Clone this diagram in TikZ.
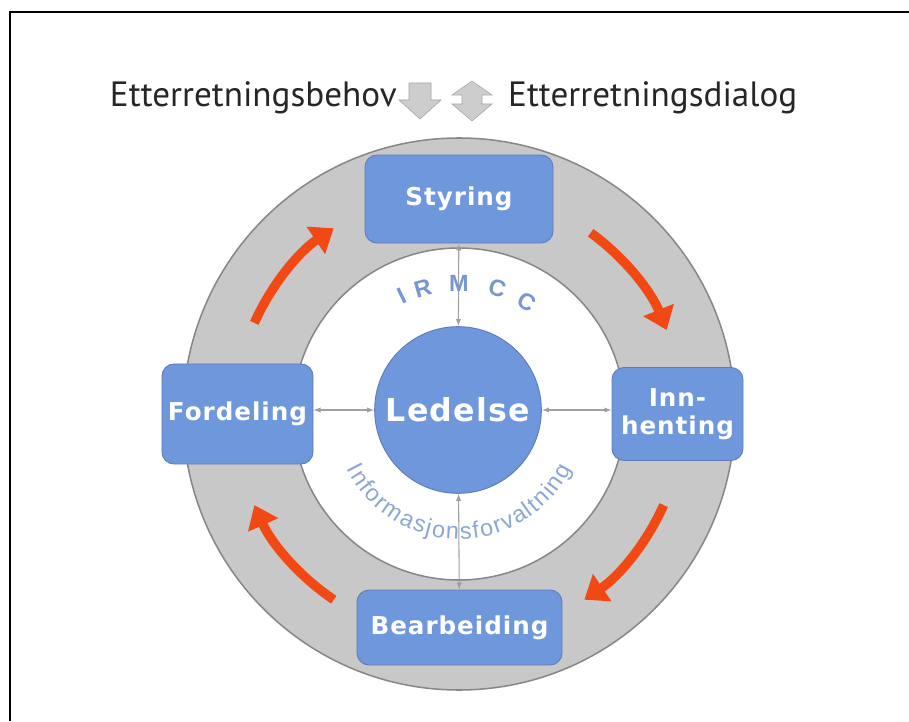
\documentclass[tikz,border=0pt]{standalone}
\usepackage{fontspec}
\usetikzlibrary{arrows.meta,decorations.text}
\newfontfamily\topfont{PT Sans}
\newfontfamily\boxfont[LetterSpace=4]{DejaVu Sans}
\newfontfamily\arcfont{Liberation Sans}
\definecolor{boxblue}{RGB}{111,151,220}
\definecolor{boxedge}{RGB}{95,125,185}
\definecolor{ringgray}{RGB}{200,200,200}
\definecolor{ringedge}{RGB}{135,135,135}
\definecolor{redarr}{RGB}{242,72,20}
\definecolor{connector}{RGB}{160,160,160}
\definecolor{arctext}{RGB}{120,150,210}
\definecolor{arctexttwo}{RGB}{140,165,215}
\definecolor{toparrow}{RGB}{205,205,205}
\definecolor{toparrowedge}{RGB}{165,165,165}
\tikzset{
  boxst/.style={rounded corners=0.36cm, fill=boxblue, draw=boxedge, line width=0.8pt,
    text=white, font=\boxfont\bfseries\fontsize{21}{24}\selectfont, align=center, inner sep=0pt},
  toptext/.style={font=\topfont\fontsize{30}{30}\selectfont, text=black!85, inner sep=0pt},
  conn/.style={draw=connector, line width=0.9pt, {Latex[length=6pt,width=4.5pt]}-{Latex[length=6pt,width=4.5pt]}},
  redcycle/.style={draw=redarr, line width=0.28cm, -{Triangle[length=0.65cm,width=0.95cm]}},
  irm/.style={font=\arcfont\bfseries\fontsize{20}{20}\selectfont, text=arctext, inner sep=0pt},
  toparr/.style={fill=toparrow, draw=toparrowedge, line width=0.5pt}
}
\begin{document}
\begin{tikzpicture}[x=0.03cm,y=0.03cm]
\useasboundingbox (0,0) rectangle (909,721);
% frame
\draw[line width=1.6pt] (10,0) -- (10,709) -- (909,709);
\coordinate (C) at (459,307);
% ring
\fill[ringgray, even odd rule] (C) circle[radius=276] (C) circle[radius=166];
\draw[ringedge, line width=1.3pt] (C) circle[radius=276];
\draw[ringedge, line width=1.3pt] (C) circle[radius=166];
% red cycle arrows
\draw[redcycle] ([shift={(156:224)}]C) arc[start angle=156, end angle=124, radius=224];
\draw[redcycle] ([shift={(54:224)}]C) arc[start angle=54, end angle=22, radius=224];
\draw[redcycle] ([shift={(-24:224)}]C) arc[start angle=-24, end angle=-56, radius=224];
\draw[redcycle] ([shift={(-124:224)}]C) arc[start angle=-124, end angle=-156, radius=224];
% top arrows
\draw[toparr] (409,638) -- (431,638) -- (431,621) -- (441,621) -- (420,602) -- (399,621) -- (409,621) -- cycle;
\draw[toparr] (472,640) -- (492,626) -- (482,626) -- (482,617) -- (492,617) -- (472,600) -- (452,617) -- (462,617) -- (462,626) -- (452,626) -- cycle;
\node[toptext, anchor=base east] (beh) at (397,614) {Etterretningsbehov};
\node[toptext, anchor=base west] (dia) at (508,614) {Etterretningsdialog};
% boxes
\node[boxst, minimum width=5.64cm, minimum height=2.64cm] (sty) at (459,522) {Styring};
\node[boxst, minimum width=4.53cm, minimum height=3.0cm] (ford) at (237.5,307) {Fordeling};
\node[boxst, minimum width=3.93cm, minimum height=2.79cm] (inn) at (677.5,307) {Inn-\\henting};
\node[boxst, minimum width=6.15cm, minimum height=2.25cm] (bear) at (459.5,93.5) {Bearbeiding};
% centre
\node[circle, fill=boxblue, draw=boxedge, line width=0.8pt, minimum size=5.0cm, inner sep=0pt,
  text=white, font=\boxfont\bfseries\fontsize{27}{27}\selectfont] (L) at (458,311) {Ledelse};
% connectors
\draw[conn] (L) -- (sty);
\draw[conn] (L) -- (bear);
\draw[conn] (L.west) -- (ford.east |- L.west);
\draw[conn] (L.east) -- (inn.west |- L.east);
% arc texts
\node[irm, rotate=26] (i1) at ([shift={(116:131)}]C) {I};
\node[irm, rotate=16] (i2) at ([shift={(106:131)}]C) {R};
\node[irm, rotate=0] (i3) at ([shift={(90:131)}]C) {M};
\node[irm, rotate=-17] (i4) at ([shift={(73:131)}]C) {C};
\node[irm, rotate=-31] (i5) at ([shift={(59:131)}]C) {C};
\path[decorate, decoration={text along path, text align=fit to path, text color=arctexttwo,
  text={|\arcfont\fontsize{20}{20}\selectfont|Informasjonsforvaltning}}]
  ([shift={(206:125)}]C) arc[start angle=206, end angle=334, radius=125];
\end{tikzpicture}
\end{document}
